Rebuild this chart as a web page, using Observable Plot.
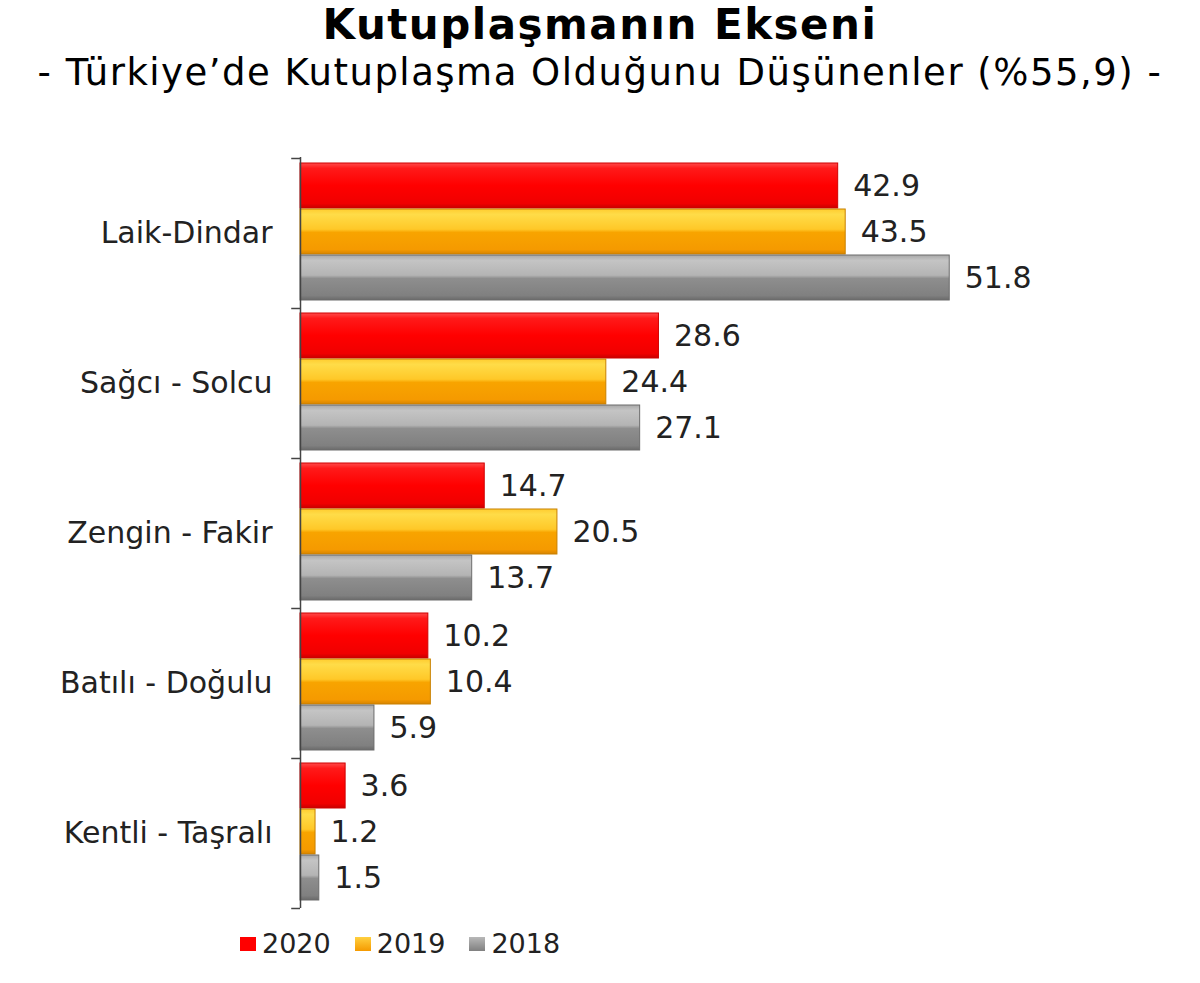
<!DOCTYPE html>
<html><head><meta charset="utf-8">
<script src="https://cdn.jsdelivr.net/npm/d3@7"></script>
<script src="https://cdn.jsdelivr.net/npm/@observablehq/plot@0.6"></script>
<style>
body{margin:0;background:#fff;font-family:"DejaVu Sans",Verdana,sans-serif;color:#111;width:1200px;height:983px;position:relative;overflow:hidden;}
#title{position:absolute;left:0;width:1200px;top:1px;text-align:center;font-weight:bold;font-size:42px;line-height:1.164;letter-spacing:1.5px;color:#000;}
#subtitle{position:absolute;left:0;width:1200px;top:51px;text-align:center;font-size:37px;line-height:1.164;letter-spacing:1.5px;color:#000;}
#chart{position:absolute;left:0;top:120px;}
#legend{position:absolute;left:240px;top:928px;display:flex;align-items:center;font-size:27px;color:#222;}
#legend .item{display:flex;align-items:center;margin-right:24px;}
#legend .sw{width:16px;height:14px;margin-right:6px;}
</style></head><body>
<svg width="0" height="0" style="position:absolute">
<defs>
<linearGradient id="g2020" x1="0" y1="0" x2="0" y2="1">
<stop offset="0" stop-color="#ff4a4a"/><stop offset="0.12" stop-color="#ff1a1a"/><stop offset="0.5" stop-color="#ff0000"/><stop offset="0.9" stop-color="#f00000"/><stop offset="1" stop-color="#c80000"/>
</linearGradient>
<linearGradient id="g2019" x1="0" y1="0" x2="0" y2="1">
<stop offset="0" stop-color="#ffcc30"/><stop offset="0.12" stop-color="#ffdc48"/><stop offset="0.45" stop-color="#ffc828"/><stop offset="0.52" stop-color="#f8a400"/><stop offset="0.9" stop-color="#f59a00"/><stop offset="1" stop-color="#d88400"/>
</linearGradient>
<linearGradient id="g2018" x1="0" y1="0" x2="0" y2="1">
<stop offset="0" stop-color="#a8a8a8"/><stop offset="0.12" stop-color="#c4c4c4"/><stop offset="0.45" stop-color="#b4b4b4"/><stop offset="0.52" stop-color="#8e8e8e"/><stop offset="0.9" stop-color="#808080"/><stop offset="1" stop-color="#6a6a6a"/>
</linearGradient>
</defs></svg>
<div id="title">Kutuplaşmanın Ekseni</div>
<div id="subtitle">- Türkiye’de Kutuplaşma Olduğunu Düşünenler (%55,9) -</div>
<div id="chart"></div>
<div id="legend"></div>
<script>
const categories = ["Laik-Dindar", "Sağcı - Solcu", "Zengin - Fakir", "Batılı - Doğulu", "Kentli - Taşralı"];
const years = ["2020", "2019", "2018"];
const values2020 = [42.9, 28.6, 14.7, 10.2, 3.6];
const values2019 = [43.5, 24.4, 20.5, 10.4, 1.2];
const values2018 = [51.8, 27.1, 13.7, 5.9, 1.5];

const series = {"2020": values2020, "2019": values2019, "2018": values2018};
const fills = {"2020": "url(#g2020)", "2019": "url(#g2019)", "2018": "url(#g2018)"};
const strokes = {"2020": "#d00000", "2019": "#c88000", "2018": "#6c6c6c"};
const swatch = {"2020": "#ff0000", "2019": "linear-gradient(#ffd040,#f59a00)", "2018": "linear-gradient(#b8b8b8,#808080)"};
// vertical placement of each year's bar inside its category band (150px)
const insets = {"2020": [5, 100], "2019": [51, 54], "2018": [97, 8]};

const marks = [];
for (const yr of years) {
  const data = categories.map((c, i) => ({category: c, value: series[yr][i]}));
  const [it, ib] = insets[yr];
  marks.push(Plot.barX(data, {x: "value", y: "category", fill: fills[yr], stroke: strokes[yr], strokeWidth: 1, insetTop: it, insetBottom: ib}));
  marks.push(Plot.text(data, {x: "value", y: "category", text: d => d.value.toFixed(1), dx: 15, dy: (it + (150 - it - ib) / 2) - 75, textAnchor: "start", fontSize: 30, fill: "#222"}));
}
marks.push(Plot.ruleX([0], {stroke: "#444", strokeWidth: 1.5}));
marks.push(Plot.ruleY(categories, {y: d => d, x1: -0.7, x2: 0, dy: -75, stroke: "#444", strokeWidth: 1.5}));
marks.push(Plot.ruleY(categories.slice(-1), {y: d => d, x1: -0.7, x2: 0, dy: 75, stroke: "#444", strokeWidth: 1.5}));
marks.push(Plot.axisY({tickSize: 0, tickPadding: 28, fontSize: 30, fill: "#222"}));

const chart = Plot.plot({
  width: 1200,
  height: 805,
  marginTop: 37,
  marginBottom: 17,
  marginLeft: 300,
  marginRight: 148,
  style: {fontFamily: "'DejaVu Sans', Verdana, sans-serif", background: "transparent"},
  x: {domain: [0, 60], axis: null},
  y: {domain: categories, padding: 0, label: null},
  marks
});
document.getElementById("chart").appendChild(chart);

const legend = document.getElementById("legend");
for (const yr of years) {
  const item = document.createElement("div");
  item.className = "item";
  const sw = document.createElement("div");
  sw.className = "sw";
  sw.style.background = swatch[yr];
  const t = document.createElement("span");
  t.textContent = yr;
  item.appendChild(sw); item.appendChild(t);
  legend.appendChild(item);
}
</script>
</body></html>
